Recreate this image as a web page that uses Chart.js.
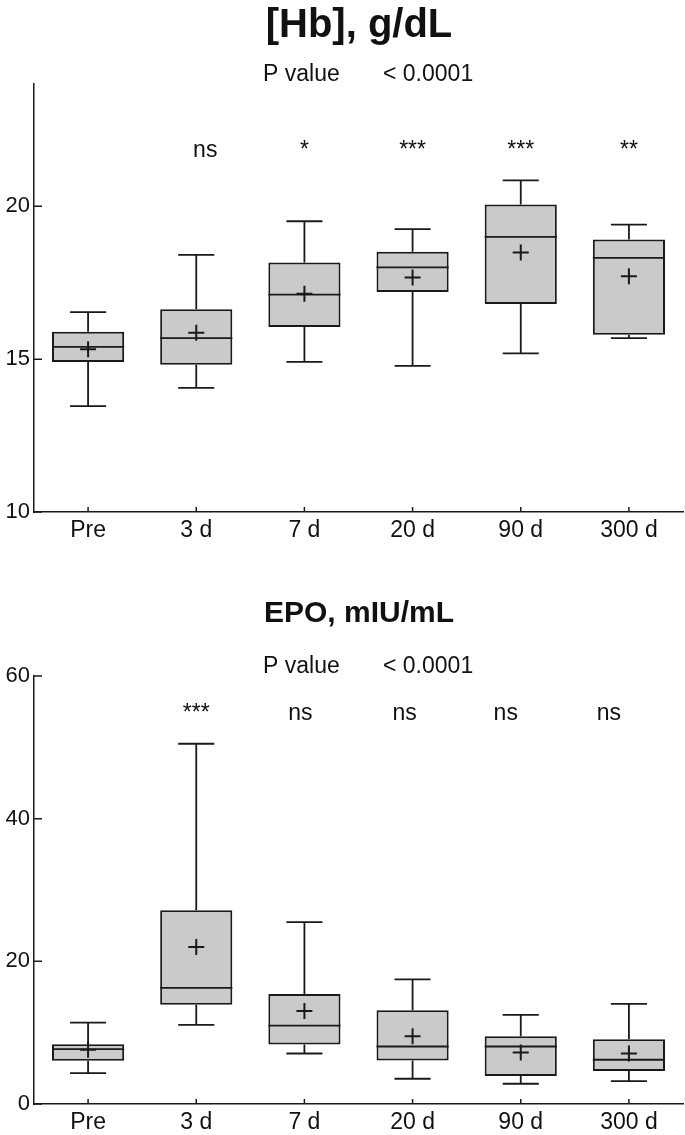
<!DOCTYPE html>
<html>
<head>
<meta charset="utf-8">
<script src="https://cdn.jsdelivr.net/npm/chart.js@4.4.1/dist/chart.umd.min.js"></script>
<style>
  html, body { margin: 0; padding: 0; background: #ffffff; }
  #wrap { position: relative; width: 685px; height: 1135px; }
  canvas { position: absolute; left: 0; }
  #c1 { top: 0; }
  #c2 { top: 570px; }
</style>
</head>
<body>
<div id="wrap">
  <canvas id="c1" width="685" height="570"></canvas>
  <canvas id="c2" width="685" height="565"></canvas>
</div>
<script>
// ---- data ----
const categories = ['Pre', '3 d', '7 d', '20 d', '90 d', '300 d'];

const hbMin    = [13.46, 14.06, 14.91, 14.78, 15.19, 15.69];
const hbQ1     = [14.91, 14.82, 16.05, 17.20, 16.80, 15.80];
const hbMedian = [15.40, 15.69, 17.11, 18.00, 19.00, 18.31];
const hbQ3     = [15.90, 16.63, 18.16, 18.51, 20.06, 18.91];
const hbMax    = [16.54, 18.41, 19.51, 19.25, 20.85, 19.40];
const hbMean   = [15.32, 15.86, 17.14, 17.67, 18.49, 17.71];
const hbSig    = ['', 'ns', '*', '***', '***', '**'];
const hbTicks  = [10, 15, 20];

const epoMin    = [4.33, 11.09, 7.08, 3.54, 2.84, 3.22];
const epoQ1     = [6.06, 13.93, 8.34, 6.10, 3.92, 4.62];
const epoMedian = [7.69, 16.27, 11.00, 8.06, 8.06, 6.20];
const epoQ3     = [8.39, 27.17, 15.43, 13.15, 9.51, 9.09];
const epoMax    = [11.40, 50.50, 25.50, 17.48, 12.49, 14.03];
const epoMean   = [7.60, 22.00, 13.05, 9.51, 7.22, 7.08];
const epoSig    = ['', '***', 'ns', 'ns', 'ns', 'ns'];
const epoTicks  = [0, 20, 40, 60];

const INK = '#1a1a1a';
const FONT = '"Liberation Sans", Arial, sans-serif';

// draws whiskers, caps and medians from the scales
const boxExtras = {
  id: 'boxExtras',
  afterDatasetsDraw(chart, args, opts) {
    const ctx = chart.ctx;
    const ys = chart.scales.y;
    const meta = chart.getDatasetMeta(0);
    ctx.save();
    ctx.strokeStyle = INK;
    ctx.lineWidth = 1.8;
    meta.data.forEach((bar, i) => {
      const x = bar.x, w = bar.width;
      const yMin = ys.getPixelForValue(opts.min[i]);
      const yMax = ys.getPixelForValue(opts.max[i]);
      const yQ1 = ys.getPixelForValue(opts.q1[i]);
      const yQ3 = ys.getPixelForValue(opts.q3[i]);
      const yMed = ys.getPixelForValue(opts.median[i]);
      ctx.beginPath();
      ctx.moveTo(x, yQ3); ctx.lineTo(x, yMax);
      ctx.moveTo(x - w / 4, yMax); ctx.lineTo(x + w / 4, yMax);
      ctx.moveTo(x, yQ1); ctx.lineTo(x, yMin);
      ctx.moveTo(x - w / 4, yMin); ctx.lineTo(x + w / 4, yMin);
      ctx.moveTo(x - w / 2, yMed); ctx.lineTo(x + w / 2, yMed);
      ctx.stroke();
    });
    ctx.restore();
  }
};

// inward tick marks on both axes
const inwardTicks = {
  id: 'inwardTicks',
  afterDraw(chart) {
    const ctx = chart.ctx;
    const xs = chart.scales.x, ys = chart.scales.y;
    const a = chart.chartArea;
    ctx.save();
    ctx.strokeStyle = INK;
    ctx.lineWidth = 1.5;
    ctx.beginPath();
    ys.ticks.forEach(t => {
      const py = ys.getPixelForValue(t.value);
      ctx.moveTo(a.left, py); ctx.lineTo(a.left + 8, py);
    });
    xs.ticks.forEach((t, i) => {
      const px = xs.getPixelForValue(i);
      ctx.moveTo(px, a.bottom); ctx.lineTo(px, a.bottom - 5);
    });
    ctx.stroke();
    ctx.restore();
  }
};

// titles, p value and significance labels
const headerText = {
  id: 'headerText',
  afterDraw(chart, args, o) {
    const ctx = chart.ctx;
    const xs = chart.scales.x;
    ctx.save();
    ctx.fillStyle = '#111';
    ctx.textBaseline = 'alphabetic';
    ctx.textAlign = 'center';
    ctx.font = 'bold ' + o.titleSize + 'px ' + FONT;
    ctx.fillText(o.title, o.titleX, o.titleY);
    ctx.textAlign = 'left';
    ctx.font = '23px ' + FONT;
    ctx.fillText('P value', 263, o.pY);
    ctx.fillText('< 0.0001', 383, o.pY);
    ctx.textAlign = 'center';
    o.sig.forEach((s, i) => {
      if (!s) return;
      ctx.fillText(s, xs.getPixelForValue(i) + (o.sigShift[i] || 0), o.sigY);
    });
    ctx.restore();
  }
};

function makeChart(id, q1, q3, median, min, max, mean, yMin, yMax, ticks, head, padTop, padBottom) {
  return new Chart(document.getElementById(id), {
    data: {
      labels: categories,
      datasets: [
        {
          type: 'bar',
          data: q1.map((v, i) => [v, q3[i]]),
          backgroundColor: '#cacaca',
          borderColor: INK,
          borderWidth: 2,
          borderSkipped: false,
          categoryPercentage: 1,
          barPercentage: 0.667,
          order: 2
        },
        {
          type: 'line',
          data: mean,
          showLine: false,
          pointStyle: 'cross',
          pointRadius: 8,
          pointBorderWidth: 2,
          pointBorderColor: INK,
          pointBackgroundColor: INK,
          order: 1
        }
      ]
    },
    options: {
      responsive: false,
      animation: false,
      devicePixelRatio: 1,
      layout: { autoPadding: false, padding: { top: padTop, bottom: padBottom, left: 0, right: 2 } },
      plugins: {
        legend: { display: false },
        tooltip: { enabled: false },
        boxExtras: { q1, q3, median, min, max },
        headerText: head
      },
      scales: {
        x: {
          type: 'category',
          offset: true,
          grid: { display: true, drawOnChartArea: false, drawTicks: false, offset: false },
          border: { display: true, color: INK, width: 1.5 },
          ticks: { color: '#111', font: { family: FONT, size: 23 }, padding: 5, maxRotation: 0 },
          afterFit(s) { s.height = 30; s.paddingLeft = 0; s.paddingRight = 0; }
        },
        y: {
          type: 'linear',
          min: yMin,
          max: yMax,
          grid: { display: true, drawOnChartArea: false, drawTicks: false },
          border: { display: true, color: INK, width: 1.5 },
          ticks: { color: '#111', font: { family: FONT, size: 22 }, padding: 4 },
          afterBuildTicks(s) { s.ticks = ticks.map(v => ({ value: v })); },
          afterFit(s) { s.width = 34; }
        }
      }
    },
    plugins: [boxExtras, inwardTicks, headerText]
  });
}

makeChart('c1', hbQ1, hbQ3, hbMedian, hbMin, hbMax, hbMean, 10, 24, hbTicks,
  { title: '[Hb], g/dL', titleSize: 40, titleX: 359, titleY: 37, pY: 81, sig: hbSig, sigShift: [0, 9, 0, 0, 0, 0], sigY: 157 },
  84, 28);

makeChart('c2', epoQ1, epoQ3, epoMedian, epoMin, epoMax, epoMean, 0, 60, epoTicks,
  { title: 'EPO, mIU/mL', titleSize: 30, titleX: 359, titleY: 52, pY: 103, sig: epoSig, sigShift: [0, 0, -4, -8, -15, -20], sigY: 150 },
  106, 1);
</script>
</body>
</html>
